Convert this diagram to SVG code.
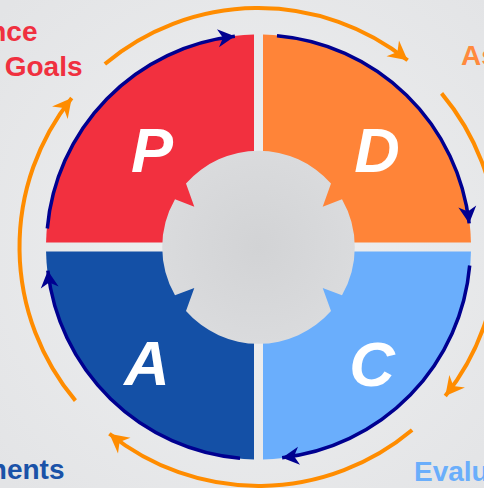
<svg xmlns="http://www.w3.org/2000/svg" width="484" height="488" viewBox="0 0 484 488">
<defs>
<radialGradient id="bg" cx="250" cy="244" r="340" gradientUnits="userSpaceOnUse">
<stop offset="0" stop-color="#eff0f1"/>
<stop offset="1" stop-color="#e3e4e6"/>
</radialGradient>
<radialGradient id="hub" cx="258.5" cy="247" r="97" gradientUnits="userSpaceOnUse">
<stop offset="0" stop-color="#d2d3d5"/>
<stop offset="1" stop-color="#dadbdd"/>
</radialGradient>
<marker id="navyArrow" viewBox="-20 -12 22 24" markerWidth="22" markerHeight="24" refX="0" refY="0" orient="auto" markerUnits="userSpaceOnUse">
<path d="M0,0 L-17,-9 L-12,0 L-17,9 Z" fill="#000090"/>
</marker>
<marker id="orangeArrow" viewBox="-22 -13 24 26" markerWidth="24" markerHeight="26" refX="0" refY="0" orient="auto" markerUnits="userSpaceOnUse">
<path d="M0,0 L-19,-10 L-13,0 L-19,10 Z" fill="#ff8c00"/>
</marker>
<style>
.navy{fill:none;stroke:#000090;stroke-width:3.5;marker-end:url(#navyArrow)}
.cycle{fill:none;stroke:#ff8c00;stroke-width:4;marker-end:url(#orangeArrow)}
.letter{font-family:"Liberation Sans",Arial,sans-serif;font-weight:bold;font-style:italic;font-size:63px;fill:#ffffff;text-anchor:middle}
.lbl{font-family:"Liberation Sans",Arial,sans-serif;font-weight:bold;font-size:28px}
</style>
</defs>
<rect width="484" height="488" fill="url(#bg)"/>

<g id="plan">
<path d="M254,34.55 L254,242.5 L46.05,242.5 A212.5,212.5 0 0 1 254,34.55 Z" fill="#f2303f"/>
<text class="letter" x="152" y="172">P</text>
</g>
<g id="do">
<path d="M263,34.55 L263,242.5 L470.95,242.5 A212.5,212.5 0 0 0 263,34.55 Z" fill="#ff8438"/>
<text class="letter" x="377" y="172">D</text>
</g>
<g id="check">
<path d="M263,459.45 L263,251.5 L470.95,251.5 A212.5,212.5 0 0 1 263,459.45 Z" fill="#6aaefc"/>
<text class="letter" x="372" y="386">C</text>
</g>
<g id="act">
<path d="M254,459.45 L254,251.5 L46.05,251.5 A212.5,212.5 0 0 0 254,459.45 Z" fill="#1450a6"/>
<text class="letter" x="147" y="385">A</text>
</g>

<g id="hub-center">
<path d="M186,183.6 A96.5,96.5 0 0 1 331,183.6 L322.7,206.7 L342,199.3 A96.5,96.5 0 0 1 342,295.3 L322.7,287.9 L331,311 A96.5,96.5 0 0 1 186,311 L194.3,287.9 L175,295.3 A96.5,96.5 0 0 1 175,199.3 L194.3,206.7 Z" fill="url(#hub)"/>
</g>

<g id="connectors">
<path class="navy" d="M47.31,228.52 A212,212 0 0 1 234.87,36.32"/>
<path class="navy" d="M276.98,35.81 A212,212 0 0 1 469.18,223.37"/>
<path class="navy" d="M469.69,265.48 A212,212 0 0 1 282.13,457.68"/>
<path class="navy" d="M240.02,458.19 A212,212 0 0 1 47.82,270.63"/>
<path class="cycle" d="M104.87,63.92 A239,239 0 0 1 407.61,60.22"/>
<path class="cycle" d="M441.58,93.37 A239,239 0 0 1 445.28,396.11"/>
<path class="cycle" d="M412.13,430.08 A239,239 0 0 1 109.39,433.78"/>
<path class="cycle" d="M75.42,400.63 A239,239 0 0 1 71.72,97.89"/>
</g>

<g id="labels">
<text class="lbl" x="37.5" y="41" fill="#f0303f" text-anchor="end">nce</text>
<text class="lbl" x="82.5" y="76" fill="#f0303f" text-anchor="end">Goals</text>
<text class="lbl" x="461" y="65" fill="#ff8a3d">As</text>
<text class="lbl" x="64.5" y="478.5" fill="#1a52a8" text-anchor="end">nents</text>
<text class="lbl" x="414" y="481" fill="#6aaefb">Evalu</text>
</g>
</svg>
